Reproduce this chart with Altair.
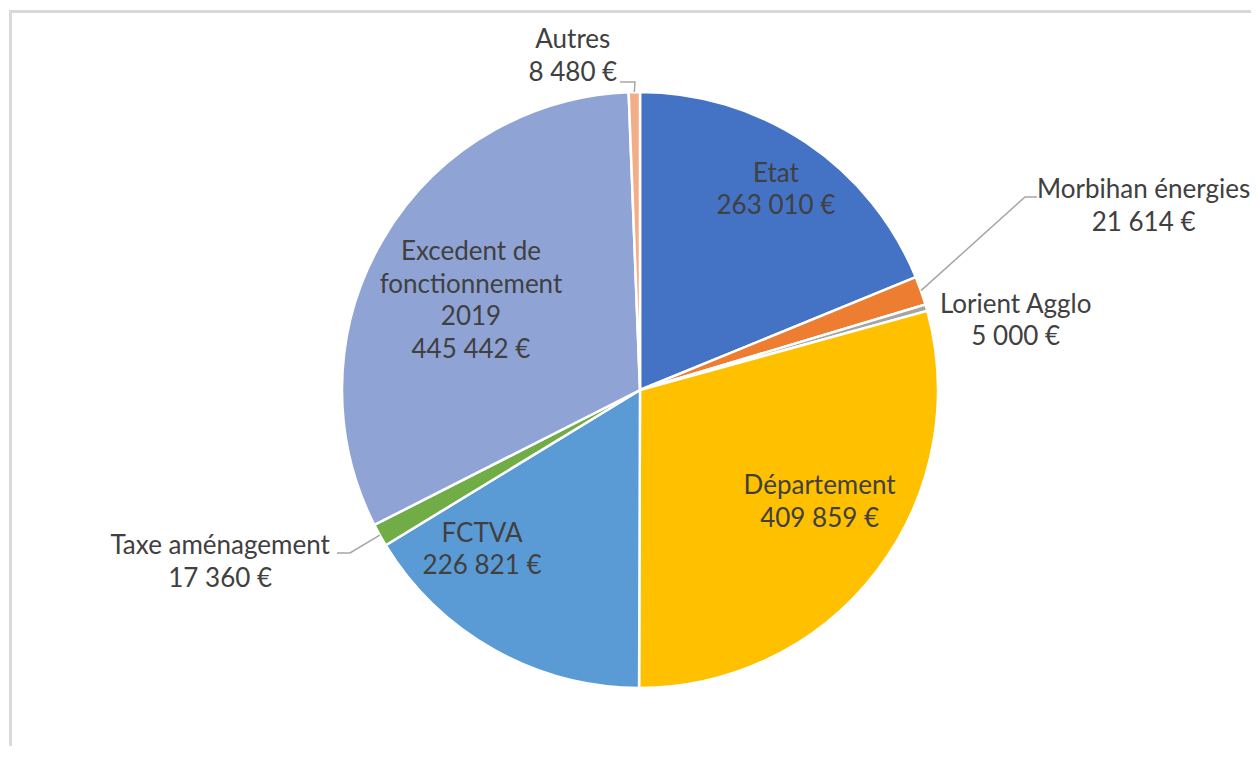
import math
import altair as alt
import pandas as pd

# ---- data -------------------------------------------------------------
categories = ["Etat", "Morbihan énergies", "Lorient Agglo", "Département",
              "FCTVA", "Taxe aménagement", "Excedent de fonctionnement 2019", "Autres"]
label_names = ["Etat", "Morbihan énergies", "Lorient Agglo", "Département",
               "FCTVA", "Taxe aménagement", "Excedent de\nfonctionnement\n2019", "Autres"]
values = [263010, 21614, 5000, 409859, 226821, 17360, 445442, 8480]
colors = ["#4472C4", "#ED7D31", "#A5A5A5", "#FFC000",
          "#5B9BD5", "#70AD47", "#8FA4D5", "#F3AE87"]

# ---- layout (pixels, relative to the pie) -----------------------------
CX, CY, R = 632, 382, 298
W, H = 1243, 738
LH = 32.5
# label radius and angular nudge (deg) from slice middle
label_r = [242, 536, 382, 212, 225, 454, 191, 340]
label_nudge = [0.3, -0.55, 5.6, -5.3, 15.2, 6.8, -2.7, -10.3]
# leader lines: elbow and end offsets from centre
leader_elbow = {"Autres": (-5, -308), "Morbihan énergies": (385, -193), "Taxe aménagement": (-290, 163)}
leader_end = {"Autres": (-20, -308), "Morbihan énergies": (397, -193), "Taxe aménagement": (-303, 163)}


def fmt(v):
    return f"{v:,}".replace(",", " ") + " €"


total = sum(values)
mids = []
acc = 0
for v in values:
    mids.append((acc + v / 2) / total * 2 * math.pi)
    acc += v

pie_df = pd.DataFrame({"cat": categories, "value": values, "idx": list(range(len(values)))})

lab_rows = []
for i, c in enumerate(categories):
    a = mids[i] + math.radians(label_nudge[i])
    txt = label_names[i] + "\n" + fmt(values[i])
    n = txt.count("\n") + 1
    lab_rows.append({
        "txt": txt,
        "lx": CX + label_r[i] * math.sin(a),
        "ly": CY - label_r[i] * math.cos(a) - (n - 1) * LH / 2,
    })
lab_df = pd.DataFrame(lab_rows)

line_rows = []
for i, c in enumerate(categories):
    if c in leader_elbow:
        a = mids[i]
        pts = [(CX + R * math.sin(a), CY - R * math.cos(a)),
               (CX + leader_elbow[c][0], CY + leader_elbow[c][1]),
               (CX + leader_end[c][0], CY + leader_end[c][1])]
        for k, (px, py) in enumerate(pts):
            line_rows.append({"cat": c, "k": k, "px": px, "py": py})
line_df = pd.DataFrame(line_rows)

# ---- chart ------------------------------------------------------------
pie = alt.Chart(pie_df).mark_arc(outerRadius=R, stroke="white", strokeWidth=2.5).encode(
    theta=alt.Theta("value:Q", stack=True),
    color=alt.Color("cat:N", scale=alt.Scale(domain=categories, range=colors), legend=None),
    order=alt.Order("idx:Q"),
    x=alt.value(CX),
    y=alt.value(CY),
)

leaders = alt.Chart(line_df).mark_line(color="#A6A6A6", strokeWidth=1.5).encode(
    x=alt.X("px:Q", scale=None, axis=None),
    y=alt.Y("py:Q", scale=None, axis=None),
    detail="cat:N",
    order="k:Q",
)

labels = alt.Chart(lab_df).mark_text(
    font="Lato", fontSize=26, color="#404040", lineBreak="\n", lineHeight=LH,
    align="center", baseline="middle",
).encode(
    x=alt.X("lx:Q", scale=None, axis=None),
    y=alt.Y("ly:Q", scale=None, axis=None),
    text="txt:N",
)

frame_data = alt.Data(values=[{"a": 1}])
frame_top = alt.Chart(frame_data).mark_rule(color="#D9D9D9", strokeWidth=3).encode(
    x=alt.value(1), x2=alt.value(W + 5), y=alt.value(3.5))
frame_left = alt.Chart(frame_data).mark_rule(color="#D9D9D9", strokeWidth=3).encode(
    x=alt.value(2.5), y=alt.value(2), y2=alt.value(H + 10))

chart = alt.layer(frame_top, frame_left, pie, leaders, labels).properties(
    width=W, height=H, padding=0, autosize=alt.AutoSizeParams(type="none"),
    background="white",
).configure_view(stroke=None)

chart.save("out.html", embed_options={"renderer": "svg", "actions": False})
